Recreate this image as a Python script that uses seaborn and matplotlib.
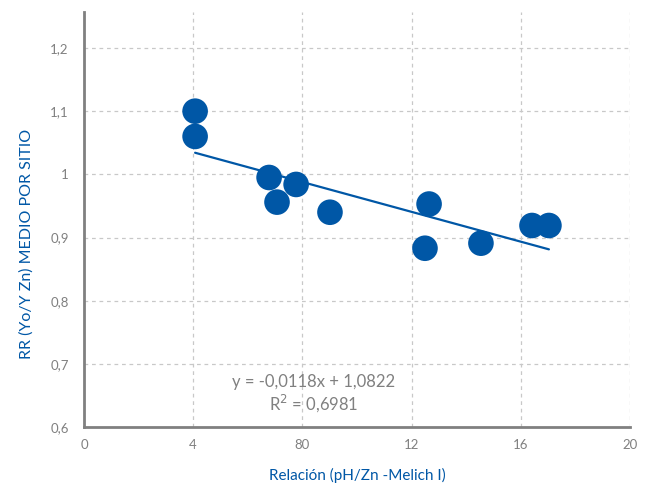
import matplotlib
matplotlib.use("Agg")
import matplotlib.pyplot as plt
import seaborn as sns
import numpy as np
import pandas as pd

# Data
relacion = [4.07, 4.07, 6.78, 7.07, 7.77, 9.01, 12.49, 12.64, 14.54, 16.41, 17.03]
rr_medio = [1.100, 1.060, 0.995, 0.956, 0.984, 0.940, 0.883, 0.953, 0.891, 0.919, 0.919]
slope = -0.0118
intercept = 1.0822
x_ticks = [0, 4, 8, 12, 16, 20]
x_tick_labels = ["0", "4", "80", "12", "16", "20"]
y_ticks = [0.6, 0.7, 0.8, 0.9, 1.0, 1.1, 1.2]
y_tick_labels = ["0,6", "0,7", "0,8", "0,9", "1", "1,1", "1,2"]
eq_text = "y = -0,0118x + 1,0822"
r2_text = "R$^2$ = 0,6981"

BLUE = "#0057A6"
GRAY = "#808080"
GRID = "#C8C8C8"

sns.set_style("white")
plt.rcParams["font.family"] = ["Lato", "DejaVu Sans"]

df = pd.DataFrame({"x": relacion, "y": rr_medio})

fig = plt.figure(figsize=(6.45, 4.88), dpi=100)
ax = fig.add_axes([84/645, 1 - 427/488, (630-84)/645, (427-12)/488])

xl = np.array([min(relacion), max(relacion)])
ax.plot(xl, slope * xl + intercept, color=BLUE, lw=1.6, zorder=2)
sns.scatterplot(data=df, x="x", y="y", ax=ax, s=340, color=BLUE,
                edgecolor="none", zorder=3, legend=False)

ax.set_xlim(0, 20)
ax.set_ylim(0.6, 1.257)
ax.set_xticks(x_ticks)
ax.set_xticklabels(x_tick_labels)
ax.set_yticks(y_ticks)
ax.set_yticklabels(y_tick_labels)

ax.grid(True, color=GRID, linestyle=(0, (3, 3)), lw=0.9)
ax.set_axisbelow(True)
for s in ["top", "right"]:
    ax.spines[s].set_visible(False)
for s in ["left", "bottom"]:
    ax.spines[s].set_color(GRAY)
    ax.spines[s].set_linewidth(2)

ax.tick_params(axis="y", direction="out", length=7, width=2.5, color="#6E6E6E",
               labelcolor=GRAY, labelsize=9.5, pad=4)
ax.tick_params(axis="x", direction="inout", length=7, width=1, color=GRID,
               labelcolor=GRAY, labelsize=9.5, pad=5)

ax.set_xlabel("Relación (pH/Zn -Melich I)", color=BLUE, fontsize=11, labelpad=12)
ax.set_ylabel("RR (Yo/Y Zn) MEDIO POR SITIO", color=BLUE, fontsize=11.5)
ax.yaxis.set_label_coords(-0.092, 0.44)

ax.text(8.42, 0.671, eq_text, ha="center", va="center", color=GRAY, fontsize=12)
ax.text(8.42, 0.638, r2_text, ha="center", va="center", color=GRAY, fontsize=12)

fig.savefig("out.png", dpi=100)
